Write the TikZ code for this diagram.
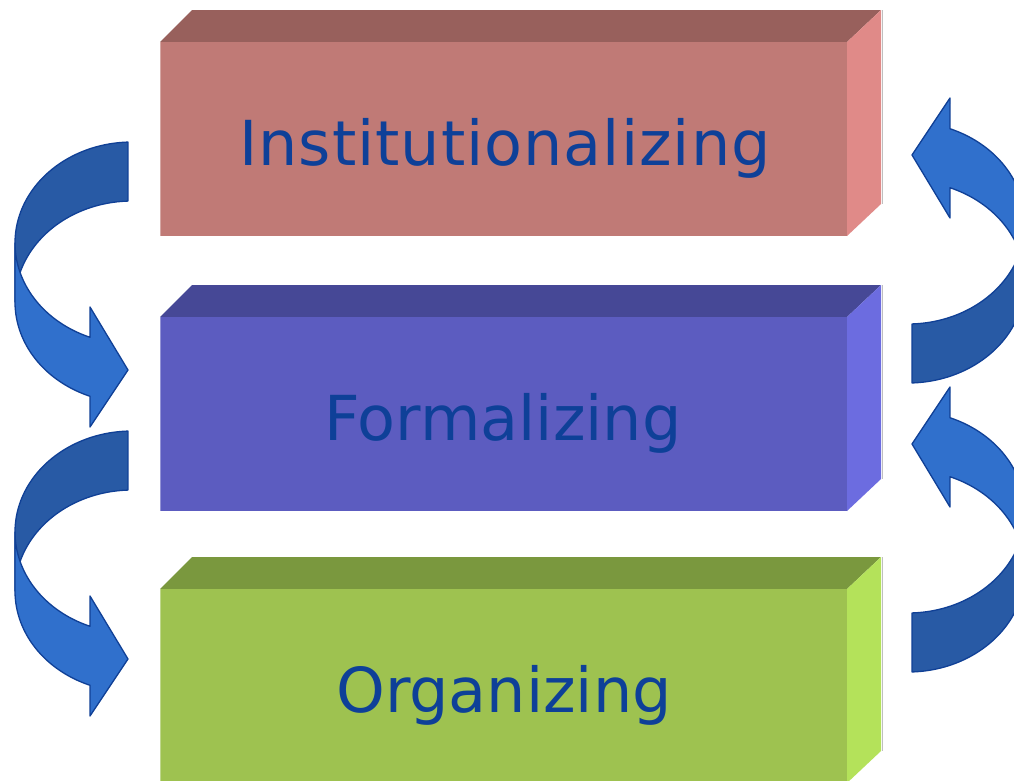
\documentclass[tikz,border=0pt]{standalone}
\usepackage{fontspec}
\setmainfont{DejaVu Sans}
\newfontfamily\widefont[LetterSpace=1.6]{DejaVu Sans}
\definecolor{fronta}{RGB}{192,122,118}
\definecolor{topa}{RGB}{152,96,92}
\definecolor{sidea}{RGB}{224,138,136}
\definecolor{frontb}{RGB}{92,92,192}
\definecolor{topb}{RGB}{70,72,150}
\definecolor{sideb}{RGB}{108,108,224}
\definecolor{frontc}{RGB}{158,194,80}
\definecolor{topc}{RGB}{122,152,62}
\definecolor{sidec}{RGB}{180,226,90}
\definecolor{txtblue}{RGB}{14,64,152}
\definecolor{arrdark}{RGB}{40,90,165}
\definecolor{arrlight}{RGB}{48,112,204}
\definecolor{arrline}{RGB}{16,64,150}
\newcommand{\myblock}[4]{% y0, front, top, side
  \fill[#3] (160,#1) -- (192,#1-32) -- (881,#1-32) -- (847,#1) -- cycle;
  \fill[#4] (847,#1) -- (881,#1-32) -- (881,#1+162) -- (847,#1+194) -- cycle;
  \fill[#2] (160,#1) rectangle (847,#1+194);
  \draw[white, opacity=0.35, line width=0.8pt] (160.4,#1+194) -- (160.4,#1);
  \draw[black!25, line width=1pt] (882,#1-32) -- (882,#1+162);
}
\newcommand{\mycurvedarrow}{%
  \path[arrowdark] plot[domain=268:180, samples=50] ({132+117*cos(\x)},{243+101*sin(\x)})
    -- plot[domain=180:268, samples=50] ({132+117*cos(\x)},{302+101*sin(\x)}) -- cycle;
  \path[arrowlight] plot[domain=180:111, samples=50] ({132+117*cos(\x)},{243+101*sin(\x)})
    -- (90,307) -- (128,370) -- (90,427)
    -- plot[domain=111:180, samples=50] ({132+117*cos(\x)},{302+101*sin(\x)}) -- cycle;
}
\begin{document}
\begin{tikzpicture}[x=1pt,y=-1pt,
  arrowdark/.style={fill=arrdark, draw=arrline, line width=1.3pt, line join=round},
  arrowlight/.style={fill=arrlight, draw=arrline, line width=1.3pt, line join=round},
  label/.style={font=\fontsize{62}{70}\selectfont, text=txtblue, anchor=base, inner sep=0pt}]
\useasboundingbox (0,0) rectangle (1014,780);
\clip (0,0) rectangle (1014,780);
\fill[white] (0,0) rectangle (1014,780);
% blocks
\myblock{42}{fronta}{topa}{sidea}
\myblock{317}{frontb}{topb}{sideb}
\myblock{589}{frontc}{topc}{sidec}
% labels
\node[label] (t1) at (505,165) {\widefont Institutionalizing};
\node[label] (t2) at (503,440) {Formalizing};
\node[label] (t3) at (504,712) {Organizing};
% left arrows
\begin{scope}\mycurvedarrow\end{scope}
\begin{scope}[shift={(0,289)}]\mycurvedarrow\end{scope}
% right arrows
\begin{scope}[shift={(1040,525)}, rotate=180]\mycurvedarrow\end{scope}
\begin{scope}[shift={(1040,814)}, rotate=180]\mycurvedarrow\end{scope}
\end{tikzpicture}
\end{document}
